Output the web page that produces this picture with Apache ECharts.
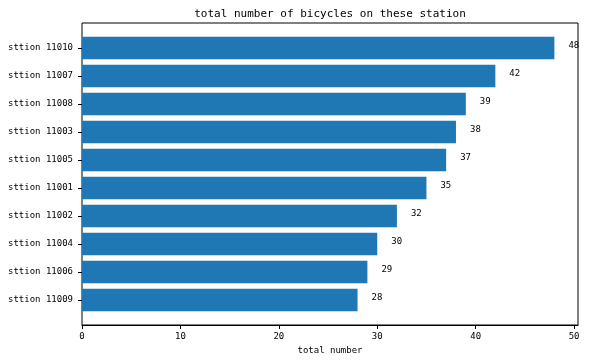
<!DOCTYPE html>
<html>
<head>
<meta charset="utf-8">
<script src="https://cdn.jsdelivr.net/npm/echarts@6/dist/echarts.min.js"></script>
<style>html,body{margin:0;padding:0;background:#fff;}#c{width:589px;height:361px;}</style>
</head>
<body>
<div id="c"></div>
<script>
const categories = ['sttion 11009','sttion 11006','sttion 11004','sttion 11002','sttion 11001','sttion 11005','sttion 11003','sttion 11008','sttion 11007','sttion 11010'];
const values = [28, 29, 30, 32, 35, 37, 38, 39, 42, 48];
const xTicks = [0, 10, 20, 30, 40, 50];
const titleText = 'total number of bicycles on these station';
const xName = 'total number';

const FONT = '"DejaVu Sans Mono", monospace';
const chart = echarts.init(document.getElementById('c'));
chart.setOption({
  animation: false,
  backgroundColor: '#fff',
  title: {
    text: titleText, left: 325, top: 4, textAlign: 'center',
    textStyle: { fontFamily: FONT, fontSize: 11, fontWeight: 'normal', color: '#000' }
  },
  grid: [
    { left: 82, right: 11, top: 23, bottom: 36, show: true, borderColor: '#000', borderWidth: 1, backgroundColor: 'transparent', containLabel: false },
    { left: 82, right: 11, top: 34, bottom: 47, containLabel: false }
  ],
  xAxis: [
    {
      gridIndex: 0, type: 'value', min: 0, max: 50.4,
      name: xName, nameLocation: 'middle', nameGap: 19,
      nameTextStyle: { fontFamily: FONT, fontSize: 9, color: '#000' },
      axisLine: { show: true, lineStyle: { color: '#000', width: 1 } },
      axisTick: { show: true, length: 4, lineStyle: { color: '#000' }, customValues: xTicks },
      axisLabel: { fontFamily: FONT, fontSize: 9, color: '#000', margin: 7, customValues: xTicks },
      splitLine: { show: false }
    },
    {
      gridIndex: 1, type: 'value', min: 0, max: 50.4, show: false
    }
  ],
  yAxis: [
    { gridIndex: 0, type: 'value', min: 0, max: 1, show: false },
    {
      gridIndex: 1, type: 'category', data: categories,
      axisLine: { show: false },
      axisTick: { show: true, length: 4, alignWithLabel: true, lineStyle: { color: '#000' } },
      axisLabel: { fontFamily: FONT, fontSize: 9, color: '#000', margin: 9 },
      splitLine: { show: false }
    }
  ],
  series: [{
    type: 'bar', xAxisIndex: 1, yAxisIndex: 1,
    data: values, barWidth: '80%',
    itemStyle: { color: '#1f77b4' },
    label: {
      show: true, position: 'right', distance: 14, offset: [0, -2],
      fontFamily: FONT, fontSize: 9, color: '#000'
    }
  }]
});
</script>
</body>
</html>
